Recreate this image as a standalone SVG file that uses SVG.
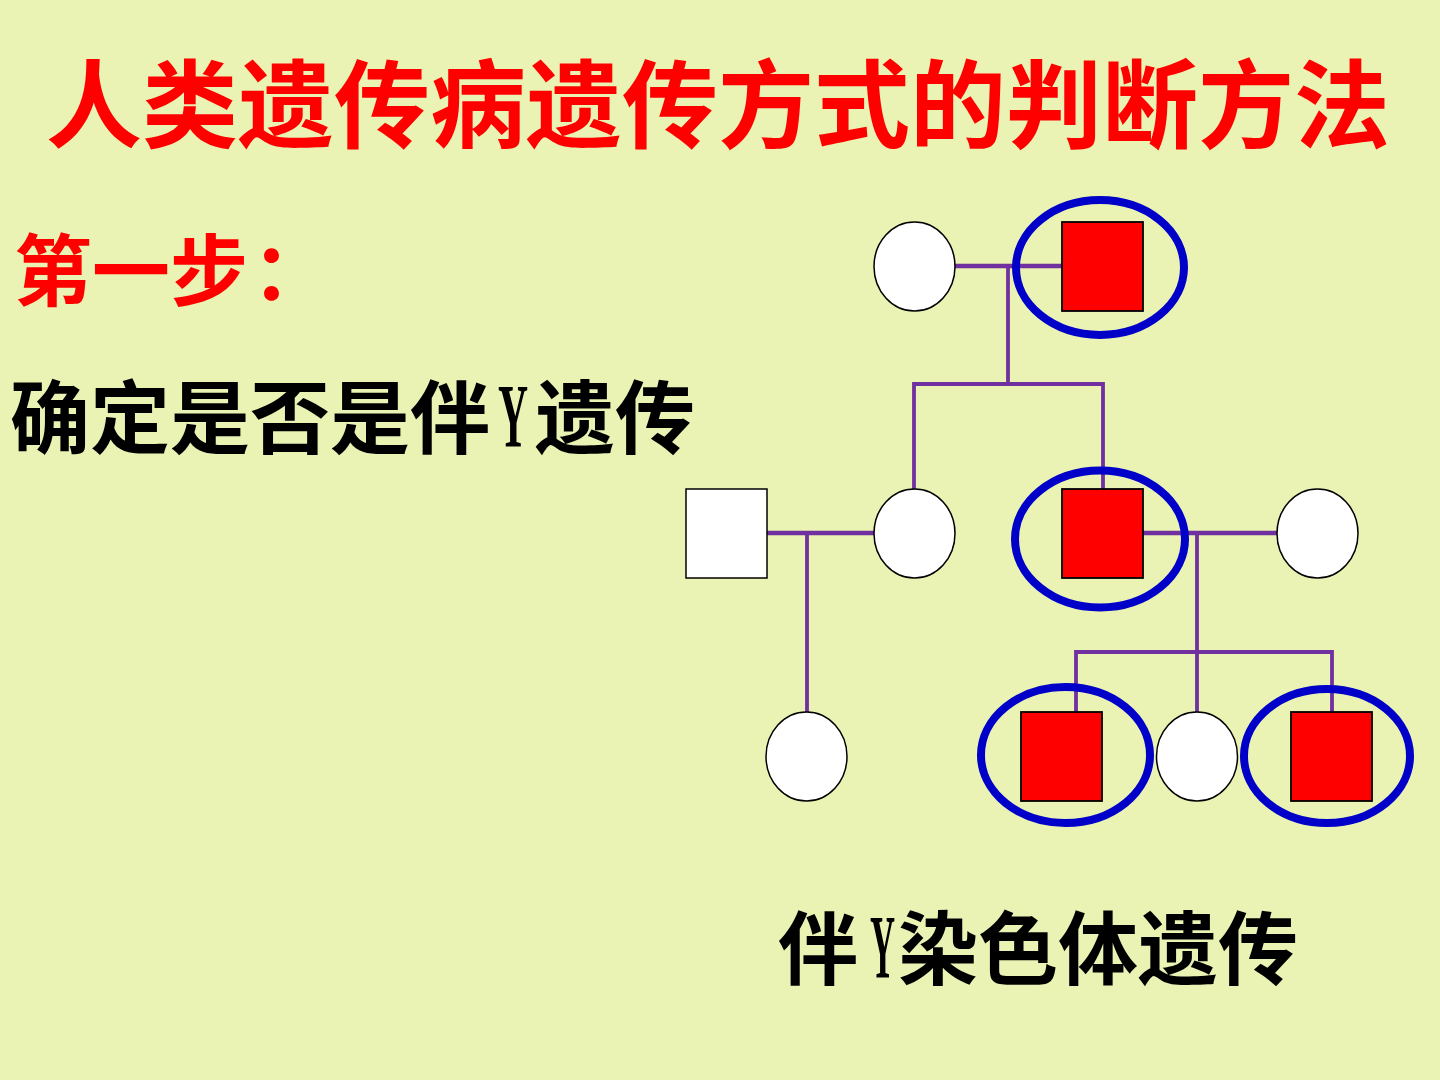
<svg xmlns="http://www.w3.org/2000/svg" width="1440" height="1080" viewBox="0 0 1440 1080">
<style>
.cjk{font-family:"Noto Sans CJK SC","Noto Sans CJK TC",sans-serif;font-weight:bold}
.f{fill:#FFFFFF;stroke:#000;stroke-width:1.5}
.ma{fill:#FFFFFF;stroke:#000;stroke-width:1.5}
.af{fill:#FF0000;stroke:#000;stroke-width:1.8}
.ring{fill:none;stroke:#0000C8;stroke-width:8}
.mar{stroke:#7030A0;stroke-width:4.5;fill:none}
.desc{stroke:#7030A0;stroke-width:3.8;fill:none}
.yl{font-family:"Liberation Serif",serif;font-weight:bold;font-size:90px}
</style>
<rect x="0" y="0" width="1440" height="1080" fill="#EAF3B3"/>
<text class="cjk" x="718" y="140" font-size="96" fill="#FF0000" text-anchor="middle">人类遗传病遗传方式的判断方法</text>
<text class="cjk" x="14" y="300" font-size="78" fill="#FF0000">第一步<tspan dx="4">：</tspan></text>
<text class="cjk" x="10" y="447" font-size="80" fill="#000000">确定是否是伴<tspan class="yl" dx="8" textLength="30" lengthAdjust="spacingAndGlyphs">Y</tspan><tspan dx="7">遗传</tspan></text>
<text class="cjk" x="778" y="978" font-size="80" fill="#000000">伴<tspan class="yl" dx="12" textLength="25" lengthAdjust="spacingAndGlyphs">Y</tspan><tspan dx="3">染色体遗传</tspan></text>
<g id="connectors">
<line class="mar" x1="954" y1="266" x2="1062" y2="266"/>
<line class="desc" x1="1008" y1="266" x2="1008" y2="384"/>
<polyline class="desc" points="914,490 914,384 1103,384 1103,490"/>
<line class="mar" x1="767" y1="533" x2="874" y2="533"/>
<line class="desc" x1="807" y1="533" x2="807" y2="712"/>
<line class="mar" x1="1143" y1="533" x2="1278" y2="533"/>
<line class="desc" x1="1197" y1="533" x2="1197" y2="712"/>
<polyline class="desc" points="1076,712 1076,652 1332,652 1332,712"/>
</g>
<g id="I1"><ellipse class="f" cx="914.5" cy="266.5" rx="40.5" ry="44.5"/></g>
<g id="I2"><rect class="af" x="1062" y="222" width="81" height="89"/></g>
<g id="II1"><rect class="ma" x="686" y="489" width="81" height="89"/></g>
<g id="II2"><ellipse class="f" cx="914.5" cy="533.5" rx="40.5" ry="44.5"/></g>
<g id="II3"><rect class="af" x="1062" y="489" width="81" height="89"/></g>
<g id="II4"><ellipse class="f" cx="1317.5" cy="533.5" rx="40.5" ry="44.5"/></g>
<g id="III1"><ellipse class="f" cx="806.5" cy="756.5" rx="40.5" ry="44.5"/></g>
<g id="III2"><rect class="af" x="1021" y="712" width="81" height="89"/></g>
<g id="III3"><ellipse class="f" cx="1197" cy="756.5" rx="40.5" ry="44.5"/></g>
<g id="III4"><rect class="af" x="1291" y="712" width="81" height="89"/></g>
<g id="highlights">
<ellipse class="ring" cx="1100" cy="267.5" rx="84" ry="67.5"/>
<ellipse class="ring" cx="1100" cy="539" rx="85" ry="68.5"/>
<ellipse class="ring" cx="1065.5" cy="755" rx="84.5" ry="68"/>
<ellipse class="ring" cx="1327" cy="756" rx="83" ry="67"/>
</g>
</svg>
